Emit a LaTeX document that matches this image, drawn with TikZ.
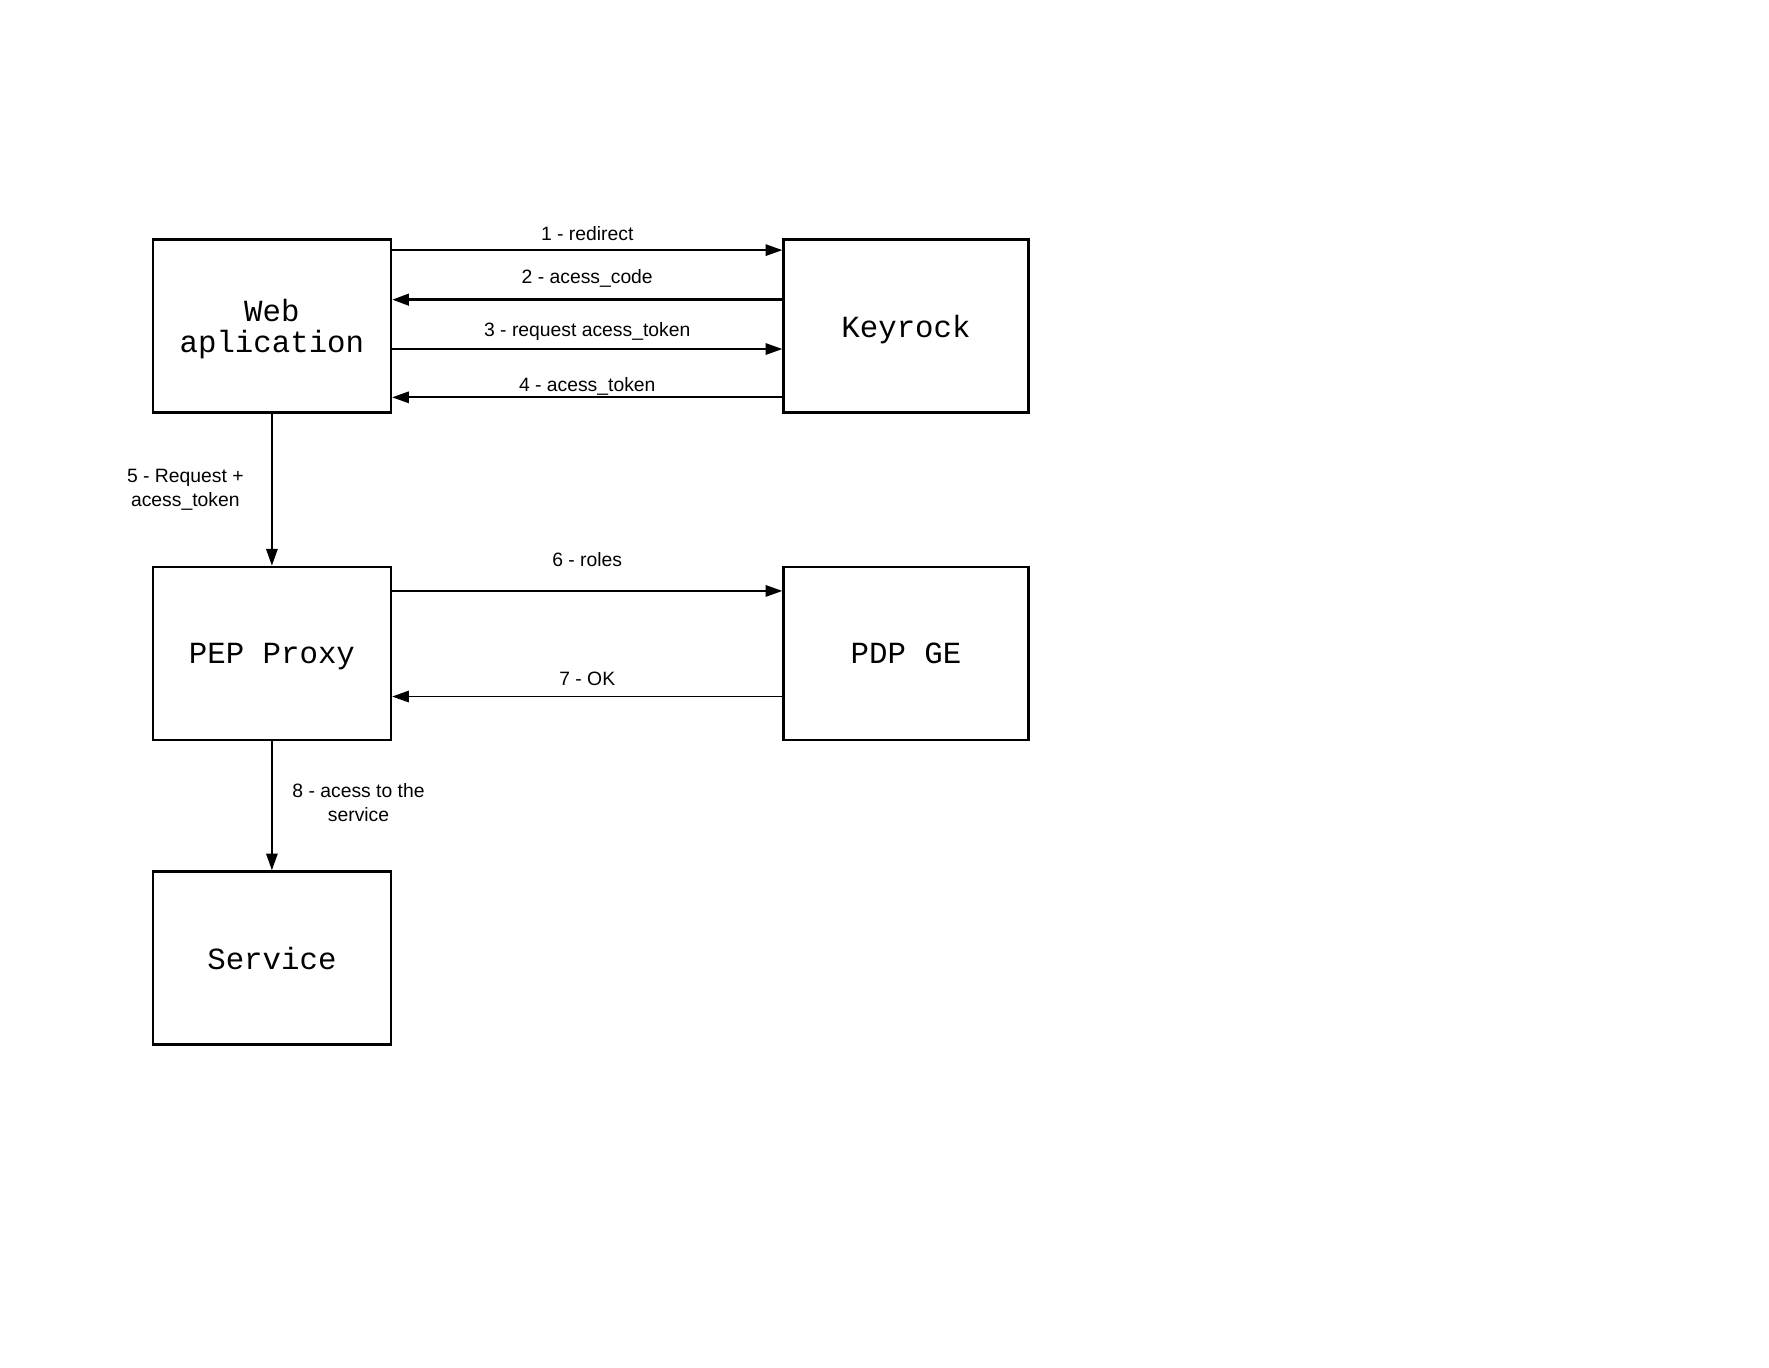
\documentclass[tikz,border=0pt]{standalone}
\usepackage{fontspec}
\setmainfont{Liberation Sans}
\setmonofont{Liberation Mono}
\usepackage{tikz}
\usetikzlibrary{arrows.meta}
\usetikzlibrary{positioning}

\begin{document}
\begin{tikzpicture} [x=0.02cm, y=-0.02cm,
		block/.style={rectangle,draw=black,line width=1.3pt,minimum width=135.6pt,minimum height=98.5pt,text depth=0pt,align=center,font=\ttfamily\fontsize{17.5}{17.5}\selectfont},
		flow/.style={line width=1pt,-{Triangle[length=9.5pt,width=6.5pt]}},
		lbl/.style={midway,inner sep=0pt,align=center,font=\fontsize{11}{13.4}\selectfont}]
		
		% page
		\useasboundingbox (0,0) rectangle (1769,1367);
		
		% Boxes
		\node[block] (web) at (271.9,326) {Web\\aplication};
		\node[block, minimum width=139.5pt] (keyrock) at (906,326) {Keyrock};
		\node[block] (pep) at (271.9,653.3) {PEP Proxy};
		\node[block, minimum width=139.5pt] (pdp) at (906,653.3) {PDP GE};
		\node[block] (service) at (271.9,957.9) {Service};
		
		% Web aplication <-> Keyrock
		\draw[flow] ([yshift=-6.7pt]web.north east) -- ([yshift=-6.7pt]keyrock.north west) node[lbl,yshift=9.6pt] {1 - redirect};
		\draw[flow, line width=1.6pt] ([yshift=-34.9pt]keyrock.north west) -- ([yshift=-34.9pt]web.north east) node[lbl,yshift=12.2pt] {2 - acess\_code};
		\draw[flow] ([yshift=-63pt]web.north east) -- ([yshift=-63pt]keyrock.north west) node[lbl,yshift=9.8pt] {3 - request acess\_token};
		\draw[flow] ([yshift=-90.5pt]keyrock.north west) -- ([yshift=-90.5pt]web.north east) node[lbl,yshift=6.4pt] {4 - acess\_token};
		
		% Web aplication -> PEP Proxy
		\draw[flow] (web) -- (pep) node[lbl,xshift=-49.3pt,yshift=0pt] {5 - Request +\\acess\_token};
		
		% PEP Proxy <-> PDP GE
		\draw[flow] ([yshift=-14.4pt]pep.north east) -- ([yshift=-14.4pt]pdp.north west) node[lbl,yshift=17.9pt] {6 - roles};
		\draw[flow] ([yshift=-74.5pt]pdp.north west) -- ([yshift=-74.5pt]pep.north east) node[lbl,yshift=10.3pt] {7 - OK};
		
		% PEP Proxy -> Service
		\draw[flow] (pep) -- (service) node[lbl,xshift=49.3pt,yshift=1.6pt] {8 - acess to the\\service};
		
		\end{tikzpicture}
\end{document}
